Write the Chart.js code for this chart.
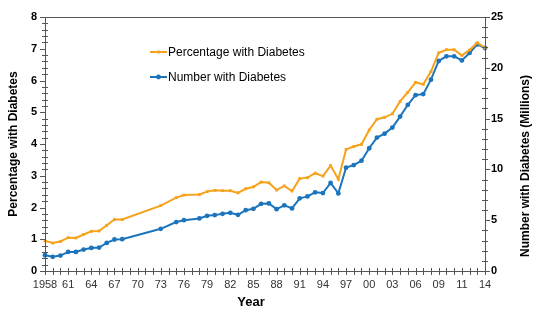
<!DOCTYPE html>
<html lang="en">
<head>
  <meta charset="UTF-8" />
  <title>Diabetes trend</title>
  <script src="https://cdn.jsdelivr.net/npm/chart.js"></script>
  <style>
    html, body { margin: 0; padding: 0; background: #fff; }
    #wrap { width: 550px; height: 322px; }
  </style>
</head>
<body>
  <div id="wrap"><canvas id="diabetesChart"></canvas></div>

  <script>
    // one slot per year on the axis (missing survey years are null)
    const years = [1958, 1959, 1960, 1961, 1962, 1963, 1964, 1965, 1966, 1967, 1968, 1969, 1970, 1971, 1972,
      1973, 1974, 1975, 1976, 1977, 1978, 1979, 1980, 1981, 1982, 1983, 1984, 1985, 1986, 1987,
      1988, 1989, 1990, 1991, 1992, 1993, 1994, 1995, 1996, 1997, 1998, 1999, 2000, 2001, 2002,
      2003, 2004, 2005, 2006, 2007, 2008, 2009, 2010, 2011, 2012, 2013, 2014, 2015];

    const percentWithDiabetes = [0.95, 0.88, 0.93, 1.05, 1.04, 1.15, 1.25, 1.26, 1.44, 1.62, 1.62, null, null, null, null,
      2.06, null, 2.31, 2.39, null, 2.41, 2.50, 2.54, 2.53, 2.53, 2.46, 2.59, 2.65, 2.80, 2.78,
      2.55, 2.68, 2.52, 2.91, 2.94, 3.08, 2.99, 3.32, 2.89, 3.83, 3.92, 3.99, 4.44, 4.78, 4.84,
      4.95, 5.34, 5.63, 5.94, 5.88, 6.28, 6.87, 6.97, 6.97, 6.79, 6.96, 7.19, 7.03];

    const numberWithDiabetes = [1.55, 1.40, 1.52, 1.88, 1.88, 2.11, 2.27, 2.31, 2.76, 3.10, 3.13, null, null, null, null,
      4.15, null, 4.82, 5.00, null, 5.17, 5.43, 5.50, 5.63, 5.73, 5.53, 5.99, 6.12, 6.61, 6.65,
      6.09, 6.46, 6.16, 7.15, 7.34, 7.74, 7.67, 8.66, 7.64, 10.17, 10.43, 10.86, 12.08, 13.13, 13.52,
      14.12, 15.20, 16.36, 17.31, 17.41, 18.83, 20.67, 21.13, 21.13, 20.73, 21.46, 22.30, 21.95];

    // label shown on every third slot
    const tickLabels = ['1958', '61', '64', '67', '70', '73', '76', '79', '82', '85', '88', '91', '94', '97', '00', '03', '06', '09', '11', '14'];

    const xTitle = 'Year';
    const rightTitle = 'Number with Diabetes (Millions)';

    const ORANGE = '#F5A21C';
    const BLUE = '#1C75BC';
    const AXIS = '#555';
    const FONT = "'Liberation Sans', Arial, sans-serif";

    // box round the plot plus Excel-style tick marks
    const axisMarks = {
      id: 'axisMarks',
      afterDraw(chart) {
        const { ctx, chartArea: a, scales } = chart;
        ctx.save();
        ctx.strokeStyle = AXIS;
        ctx.lineWidth = 1;
        ctx.strokeRect(Math.round(a.left) + 0.5, Math.round(a.top) + 0.5,
          Math.round(a.right - a.left), Math.round(a.bottom - a.top));
        ctx.beginPath();
        for (let i = 0; i < years.length; i++) {
          const px = Math.round(scales.x.getPixelForValue(i)) + 0.5;
          ctx.moveTo(px, a.bottom - 3);
          ctx.lineTo(px, a.bottom + 4);
        }
        for (let k = 0; k <= 40; k++) {
          const py = Math.round(scales.y.getPixelForValue(k * 0.2)) + 0.5;
          const major = k % 5 === 0;
          ctx.moveTo(a.left - (major ? 5 : 3), py);
          ctx.lineTo(a.left + (major ? 0 : 3), py);
        }
        for (let k = 0; k <= 25; k++) {
          const py = Math.round(scales.y1.getPixelForValue(k)) + 0.5;
          const major = k % 5 === 0;
          ctx.moveTo(a.right - (major ? 0 : 3), py);
          ctx.lineTo(a.right + (major ? 5 : 3), py);
        }
        ctx.stroke();

        ctx.fillStyle = '#000';
        ctx.textAlign = 'center';
        ctx.textBaseline = 'middle';
        ctx.font = 'bold 13px ' + FONT;
        ctx.fillText(xTitle, 251, 302);

        // right axis title reads bottom-to-top like the left one
        ctx.translate(526, 166);
        ctx.rotate(-Math.PI / 2);
        ctx.font = 'bold 12px ' + FONT;
        ctx.fillText(rightTitle, 0, 0);
        ctx.restore();
      }
    };

    // legend sitting inside the plot area
    const innerLegend = {
      id: 'innerLegend',
      afterDatasetsDraw(chart) {
        const ctx = chart.ctx;
        const rows = [52, 77];
        ctx.save();
        ctx.font = '12px ' + FONT;
        ctx.textBaseline = 'middle';
        chart.data.datasets.forEach((ds, i) => {
          const y = rows[i];
          ctx.strokeStyle = ds.borderColor;
          ctx.fillStyle = ds.borderColor;
          ctx.lineWidth = 2;
          ctx.beginPath();
          ctx.moveTo(150, y);
          ctx.lineTo(167, y);
          ctx.stroke();
          Chart.helpers.drawPoint(ctx, { pointStyle: ds.pointStyle, radius: ds.pointRadius, rotation: 0, borderWidth: 0 }, 158.5, y);
          ctx.fillStyle = '#000';
          ctx.fillText(ds.label, 168, y + 1);
        });
        ctx.restore();
      }
    };

    new Chart(document.getElementById('diabetesChart'), {
      type: 'line',
      data: {
        labels: years,
        datasets: [
          {
            label: 'Percentage with Diabetes',
            data: percentWithDiabetes,
            yAxisID: 'y',
            borderColor: ORANGE,
            backgroundColor: ORANGE,
            borderWidth: 2,
            pointStyle: 'rect',
            pointRadius: 2,
            pointBorderWidth: 0,
            spanGaps: true,
            tension: 0
          },
          {
            label: 'Number with Diabetes',
            data: numberWithDiabetes,
            yAxisID: 'y1',
            borderColor: BLUE,
            backgroundColor: BLUE,
            borderWidth: 2,
            pointStyle: 'circle',
            pointRadius: 2.4,
            pointBorderWidth: 0,
            spanGaps: true,
            tension: 0
          }
        ]
      },
      options: {
        responsive: true,
        maintainAspectRatio: false,
        animation: false,
        layout: { padding: { top: 17, right: 0, bottom: 0, left: 0 } },
        plugins: {
          legend: { display: false },
          tooltip: { enabled: false }
        },
        scales: {
          x: {
            type: 'category',
            offset: false,
            grid: { display: false, drawTicks: false },
            border: { display: false },
            ticks: {
              autoSkip: false,
              maxRotation: 0,
              padding: 7,
              color: '#333',
              font: { family: FONT, size: 11 },
              callback: (val, i) => (i % 3 === 0 ? tickLabels[i / 3] : '')
            },
            afterFit: s => { s.height = 51; }
          },
          y: {
            position: 'left',
            min: 0,
            max: 8,
            grid: { display: false, drawTicks: false },
            border: { display: false },
            ticks: {
              stepSize: 1,
              padding: 8,
              color: '#000',
              font: { family: FONT, size: 11, weight: 'bold' }
            },
            title: {
              display: true,
              text: 'Percentage with Diabetes',
              color: '#000',
              font: { family: FONT, size: 12, weight: 'bold' },
              padding: { top: 6, bottom: 0 }
            },
            afterFit: s => { s.width = 45; }
          },
          y1: {
            position: 'right',
            min: 0,
            max: 25,
            grid: { display: false, drawTicks: false },
            border: { display: false },
            ticks: {
              stepSize: 5,
              padding: 6,
              color: '#000',
              font: { family: FONT, size: 11, weight: 'bold' }
            },
            afterFit: s => { s.width = 65; }
          }
        }
      },
      plugins: [axisMarks, innerLegend]
    });
  </script>
</body>
</html>
